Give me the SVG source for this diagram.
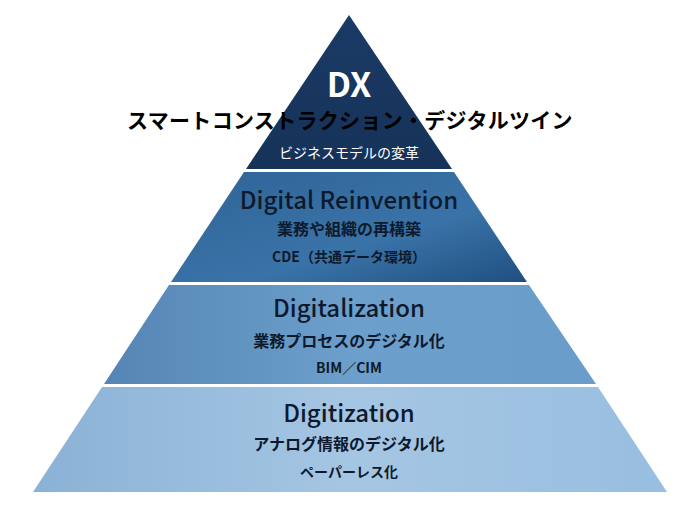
<svg xmlns="http://www.w3.org/2000/svg" width="700" height="511" viewBox="0 0 700 511">
<style>
text{font-family:"Noto Sans CJK JP","Noto Sans",sans-serif;text-anchor:middle;font-weight:bold;fill:#0e1a2b}
.w{fill:#ffffff;font-weight:normal}
.h{font-size:24px;font-weight:500}
</style>
<defs>
<linearGradient id="g1" x1="0" y1="0" x2="0" y2="1"><stop offset="0" stop-color="#1a3a66"/><stop offset="1" stop-color="#163258"/></linearGradient>
<linearGradient id="g2" x1="0" y1="0" x2="1" y2="1"><stop offset="0" stop-color="#2f6497"/><stop offset="0.6" stop-color="#3a73a8"/><stop offset="1" stop-color="#1f4f80"/></linearGradient>
<linearGradient id="g3" x1="0" y1="0" x2="1" y2="0"><stop offset="0" stop-color="#5585b4"/><stop offset="0.5" stop-color="#6c9fcc"/><stop offset="1" stop-color="#6a9dc9"/></linearGradient>
<linearGradient id="g4" x1="0" y1="0" x2="1" y2="0"><stop offset="0" stop-color="#8ab2d6"/><stop offset="0.5" stop-color="#a5c6e3"/><stop offset="1" stop-color="#98bee0"/></linearGradient>
</defs>
<rect width="700" height="511" fill="#ffffff"/>
<g id="tier-dx"><polygon points="349,15 452,169 246,169" fill="url(#g1)"/>
<text x="349" y="97" font-size="34" style="fill:#fff">DX</text>
<text x="350" y="128" font-size="21" letter-spacing="0.3" style="fill:#000">スマートコンストラクション・デジタルツイン</text>
<text x="349" y="158" font-size="14" class="w">ビジネスモデルの変革</text></g>
<g id="tier-reinvention"><polygon points="244,172 454,172 527,282 171,282" fill="url(#g2)"/>
<text x="349" y="209" class="h">Digital Reinvention</text>
<text x="349" y="235" font-size="16">業務や組織の再構築</text>
<text x="349" y="262" font-size="14">CDE（共通データ環境）</text></g>
<g id="tier-digitalization"><polygon points="169,285 529,285 596,384 104,384" fill="url(#g3)"/>
<text x="349" y="317" class="h">Digitalization</text>
<text x="349" y="347" font-size="16">業務プロセスのデジタル化</text>
<text x="349" y="373" font-size="14">BIM／CIM</text></g>
<g id="tier-digitization"><polygon points="102,387 598,387 667,492 33,492" fill="url(#g4)"/>
<text x="349" y="422" class="h">Digitization</text>
<text x="349" y="450" font-size="16">アナログ情報のデジタル化</text>
<text x="349" y="477" font-size="14">ペーパーレス化</text></g>
<g id="connectors"/>
</svg>
